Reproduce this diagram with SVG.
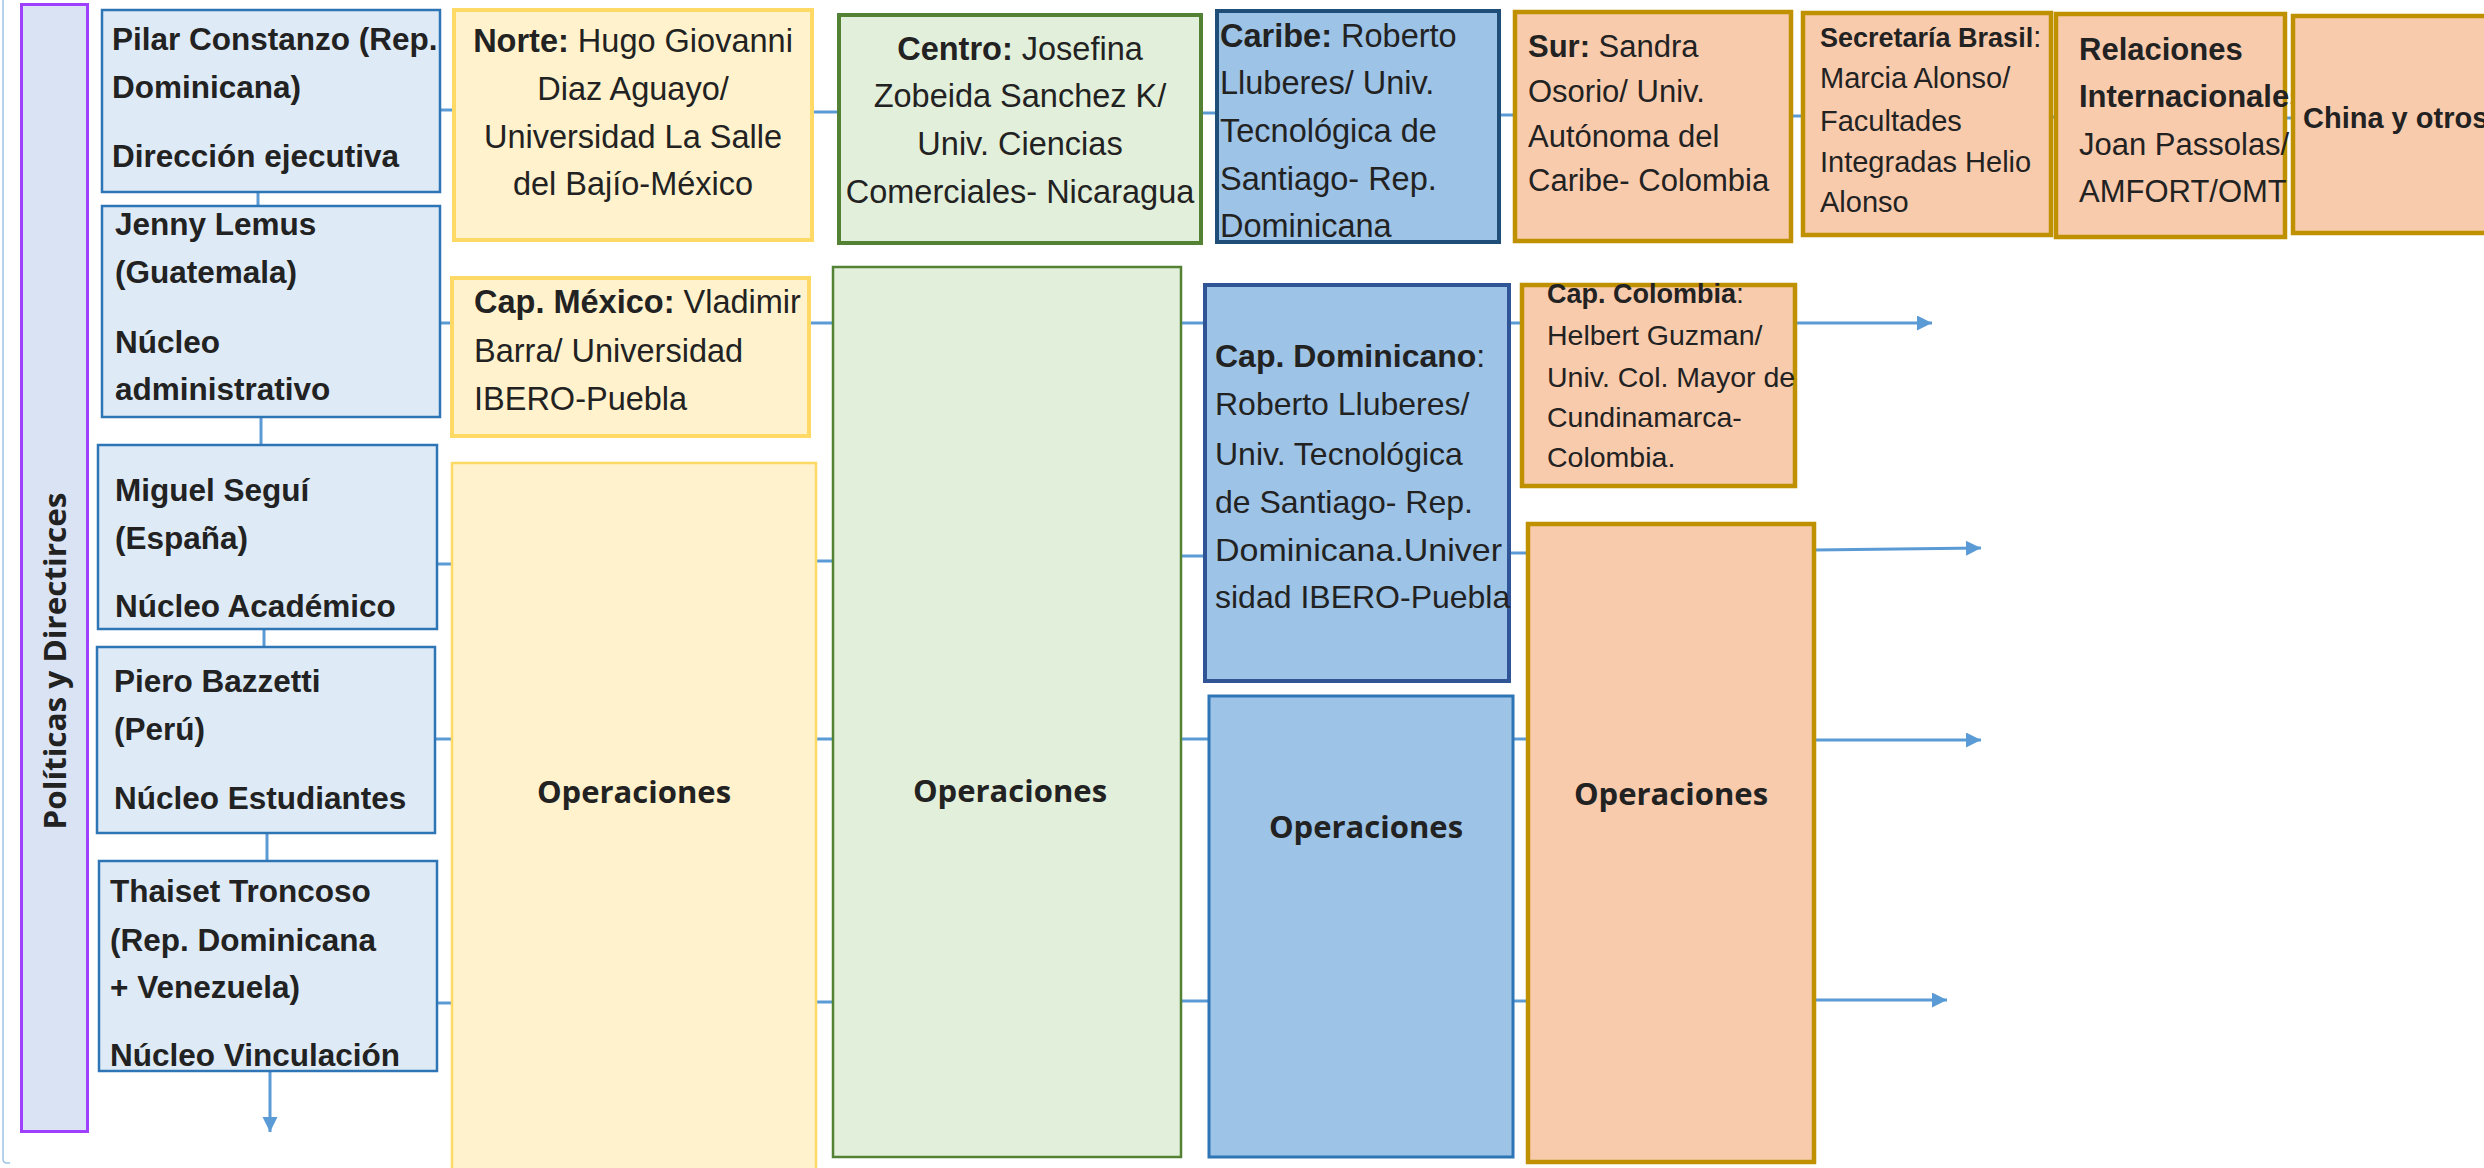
<svg xmlns="http://www.w3.org/2000/svg" width="2484" height="1168" viewBox="0 0 2484 1168">
<defs>
<style>
.t{font-family:"Liberation Sans",Arial,sans-serif;fill:#222222}
.b{font-weight:bold}
.lc{font-size:31.5px;font-weight:bold}
.r{font-size:32.5px}
.op{font-family:"Open Sans","Liberation Sans",sans-serif;font-weight:bold;font-size:31px;fill:#222222;text-anchor:middle}
.c{fill:none;stroke:#5B9BD5;stroke-width:3}
.lb{fill:#DEEBF7;stroke:#2E75B6;stroke-width:2.5}
.ye{fill:#FFF2CC;stroke:#FFD966;stroke-width:4}
.gr{fill:#E2EFDA;stroke:#548235;stroke-width:4}
.bl{fill:#9DC3E6}
.or{fill:#F8CBAD;stroke:#BF9000;stroke-width:4.5}
</style>
<marker id="ah" markerUnits="userSpaceOnUse" markerWidth="16" markerHeight="16" refX="15" refY="7.5" orient="auto">
<path d="M0,0 L15,7.5 L0,15 z" fill="#5B9BD5"/>
</marker>
</defs>
<rect x="0" y="0" width="2484" height="1168" fill="#FFFFFF"/>
<path d="M3,0 V1159 Q3,1163 7,1163 H10" fill="none" stroke="#9DC3E6" stroke-width="1.5"/>

<g id="connectors">
<line class="c" x1="258" y1="192" x2="258" y2="206"/>
<line class="c" x1="261" y1="417" x2="261" y2="445"/>
<line class="c" x1="264" y1="629" x2="264" y2="647"/>
<line class="c" x1="267" y1="833" x2="267" y2="861"/>
<line class="c" x1="270" y1="1071" x2="270" y2="1132" marker-end="url(#ah)"/>
<line class="c" x1="440" y1="110" x2="455" y2="110"/>
<line class="c" x1="440" y1="323" x2="453" y2="323"/>
<line class="c" x1="437" y1="564" x2="453" y2="564"/>
<line class="c" x1="435" y1="739" x2="453" y2="739"/>
<line class="c" x1="437" y1="1003" x2="453" y2="1003"/>
<line class="c" x1="812" y1="112" x2="840" y2="112"/>
<line class="c" x1="809" y1="323" x2="834" y2="323"/>
<line class="c" x1="816" y1="561" x2="834" y2="561"/>
<line class="c" x1="816" y1="739" x2="834" y2="739"/>
<line class="c" x1="816" y1="1002" x2="834" y2="1002"/>
<line class="c" x1="1201" y1="113" x2="1218" y2="113"/>
<line class="c" x1="1181" y1="323" x2="1205" y2="323"/>
<line class="c" x1="1181" y1="556" x2="1205" y2="556"/>
<line class="c" x1="1181" y1="739" x2="1210" y2="739"/>
<line class="c" x1="1181" y1="1001" x2="1210" y2="1001"/>
<line class="c" x1="1499" y1="115" x2="1516" y2="115"/>
<line class="c" x1="1509" y1="323" x2="1523" y2="323"/>
<line class="c" x1="1509" y1="553" x2="1529" y2="553"/>
<line class="c" x1="1513" y1="739" x2="1529" y2="739"/>
<line class="c" x1="1513" y1="1001" x2="1529" y2="1001"/>
<line class="c" x1="1791" y1="116" x2="1804" y2="116"/>
<line class="c" x1="2051" y1="117" x2="2057" y2="117"/>
<line class="c" x1="2285" y1="118" x2="2294" y2="118"/>
<line class="c" x1="1795" y1="323" x2="1932" y2="323" marker-end="url(#ah)"/>
<line class="c" x1="1814" y1="550" x2="1981" y2="548" marker-end="url(#ah)"/>
<line class="c" x1="1814" y1="740" x2="1981" y2="740" marker-end="url(#ah)"/>
<line class="c" x1="1814" y1="1000" x2="1947" y2="1000" marker-end="url(#ah)"/>
</g>

<g id="politicas">
<rect x="21.5" y="4.5" width="66" height="1127" fill="#DAE3F3" stroke="#A040FF" stroke-width="3"/>
<text class="op" transform="translate(66,661) rotate(-90)" x="0" y="0" textLength="337" lengthAdjust="spacingAndGlyphs">Políticas y Directirces</text>
</g>

<g id="pilar">
<rect class="lb" x="102" y="10" width="338" height="182"/>
<text class="t lc" x="112" y="50">Pilar Constanzo (Rep.</text>
<text class="t lc" x="112" y="98">Dominicana)</text>
<text class="t lc" x="112" y="167">Dirección ejecutiva</text>
</g>
<g id="jenny">
<rect class="lb" x="102" y="206" width="338" height="211"/>
<text class="t lc" x="115" y="235">Jenny Lemus</text>
<text class="t lc" x="115" y="283">(Guatemala)</text>
<text class="t lc" x="115" y="353">Núcleo</text>
<text class="t lc" x="115" y="400">administrativo</text>
</g>
<g id="miguel">
<rect class="lb" x="98" y="445" width="339" height="184"/>
<text class="t lc" x="115" y="501">Miguel Seguí</text>
<text class="t lc" x="115" y="549">(España)</text>
<text class="t lc" x="115" y="617">Núcleo Académico</text>
</g>
<g id="piero">
<rect class="lb" x="97" y="647" width="338" height="186"/>
<text class="t lc" x="114" y="692">Piero Bazzetti</text>
<text class="t lc" x="114" y="740">(Perú)</text>
<text class="t lc" x="114" y="809">Núcleo Estudiantes</text>
</g>
<g id="thaiset">
<rect class="lb" x="99" y="861" width="338" height="210"/>
<text class="t lc" x="110" y="902">Thaiset Troncoso</text>
<text class="t lc" x="110" y="951">(Rep. Dominicana</text>
<text class="t lc" x="110" y="998">+ Venezuela)</text>
<text class="t lc" x="110" y="1066">Núcleo Vinculación</text>
</g>

<g id="norte">
<rect class="ye" x="454" y="10" width="358" height="230"/>
<text class="t r" x="633" y="52" text-anchor="middle"><tspan class="b">Norte:</tspan> Hugo Giovanni</text>
<text class="t r" x="633" y="100" text-anchor="middle">Diaz Aguayo/</text>
<text class="t r" x="633" y="148" text-anchor="middle">Universidad La Salle</text>
<text class="t r" x="633" y="195" text-anchor="middle">del Bajío-México</text>
</g>
<g id="cap-mexico">
<rect class="ye" x="452" y="278" width="357" height="158"/>
<text class="t r" x="474" y="313"><tspan class="b">Cap. México:</tspan> Vladimir</text>
<text class="t r" x="474" y="362">Barra/ Universidad</text>
<text class="t r" x="474" y="410">IBERO-Puebla</text>
</g>
<g id="op-norte">
<rect x="452" y="463" width="364" height="720" fill="#FFF2CC" stroke="#FFD966" stroke-width="2.5"/>
<text class="op" x="634" y="803">Operaciones</text>
</g>

<g id="centro">
<rect class="gr" x="839" y="15" width="362" height="228"/>
<text class="t r" x="1020" y="60" text-anchor="middle"><tspan class="b">Centro:</tspan> Josefina</text>
<text class="t r" x="1020" y="107" text-anchor="middle">Zobeida Sanchez K/</text>
<text class="t r" x="1020" y="155" text-anchor="middle">Univ. Ciencias</text>
<text class="t r" x="1020" y="203" text-anchor="middle">Comerciales- Nicaragua</text>
</g>
<g id="op-centro">
<rect x="833" y="267" width="348" height="890" fill="#E2EFDA" stroke="#548235" stroke-width="2.5"/>
<text class="op" x="1010" y="802">Operaciones</text>
</g>

<g id="caribe">
<rect class="bl" x="1217" y="11" width="282" height="231" stroke="#1F4E79" stroke-width="4"/>
<text class="t r" x="1220" y="47"><tspan class="b">Caribe:</tspan> Roberto</text>
<text class="t r" x="1220" y="94">Lluberes/ Univ.</text>
<text class="t r" x="1220" y="142">Tecnológica de</text>
<text class="t r" x="1220" y="190">Santiago- Rep.</text>
<text class="t r" x="1220" y="237">Dominicana</text>
</g>
<g id="cap-dominicano">
<rect class="bl" x="1205" y="285" width="304" height="396" stroke="#2F5597" stroke-width="4"/>
<text class="t" font-size="32" x="1215" y="367"><tspan class="b">Cap. Dominicano</tspan>:</text>
<text class="t" font-size="32" x="1215" y="415">Roberto Lluberes/</text>
<text class="t" font-size="32" x="1215" y="465">Univ. Tecnológica</text>
<text class="t" font-size="32" x="1215" y="513">de Santiago- Rep.</text>
<text class="t" font-size="32" x="1215" y="561" textLength="287" lengthAdjust="spacingAndGlyphs">Dominicana.Univer</text>
<text class="t" font-size="32" x="1215" y="608">sidad IBERO-Puebla</text>
</g>
<g id="op-caribe">
<rect class="bl" x="1209" y="696" width="304" height="461" stroke="#2E75B6" stroke-width="3"/>
<text class="op" x="1366" y="838">Operaciones</text>
</g>

<g id="sur">
<rect class="or" x="1515" y="12" width="276" height="229"/>
<text class="t" font-size="31" x="1528" y="57"><tspan class="b">Sur:</tspan> Sandra</text>
<text class="t" font-size="31" x="1528" y="102">Osorio/ Univ.</text>
<text class="t" font-size="31" x="1528" y="147">Autónoma del</text>
<text class="t" font-size="31" x="1528" y="191">Caribe- Colombia</text>
</g>
<g id="cap-colombia">
<rect class="or" x="1522" y="285" width="273" height="201"/>
<text class="t" font-size="28.5" x="1547" y="303"><tspan class="b" font-size="27">Cap. Colombia</tspan>:</text>
<text class="t" font-size="28.5" x="1547" y="345">Helbert Guzman/</text>
<text class="t" font-size="28.5" x="1547" y="387">Univ. Col. Mayor de</text>
<text class="t" font-size="28.5" x="1547" y="427">Cundinamarca-</text>
<text class="t" font-size="28.5" x="1547" y="467">Colombia.</text>
</g>
<g id="op-sur">
<rect class="or" x="1528" y="524" width="286" height="638"/>
<text class="op" x="1671" y="805">Operaciones</text>
</g>

<g id="secretaria-brasil">
<rect class="or" x="1803" y="13" width="248" height="222" stroke-width="4"/>
<text class="t" font-size="29" x="1820" y="47"><tspan class="b" font-size="27">Secretaría Brasil</tspan>:</text>
<text class="t" font-size="29" x="1820" y="88">Marcia Alonso/</text>
<text class="t" font-size="29" x="1820" y="131">Facultades</text>
<text class="t" font-size="29" x="1820" y="172">Integradas Helio</text>
<text class="t" font-size="29" x="1820" y="212">Alonso</text>
</g>
<g id="relaciones">
<rect class="or" x="2056" y="14" width="229" height="223"/>
<text class="t b" font-size="31" x="2079" y="60">Relaciones</text>
<text class="t b" font-size="31" x="2079" y="107">Internacionales</text>
<text class="t" font-size="31" x="2079" y="155">Joan Passolas/</text>
<text class="t" font-size="31" x="2079" y="202">AMFORT/OMT</text>
</g>
<g id="china">
<rect class="or" x="2293" y="16" width="220" height="217"/>
<text class="t b" font-size="29" x="2303" y="128">China y otros</text>
</g>
</svg>
